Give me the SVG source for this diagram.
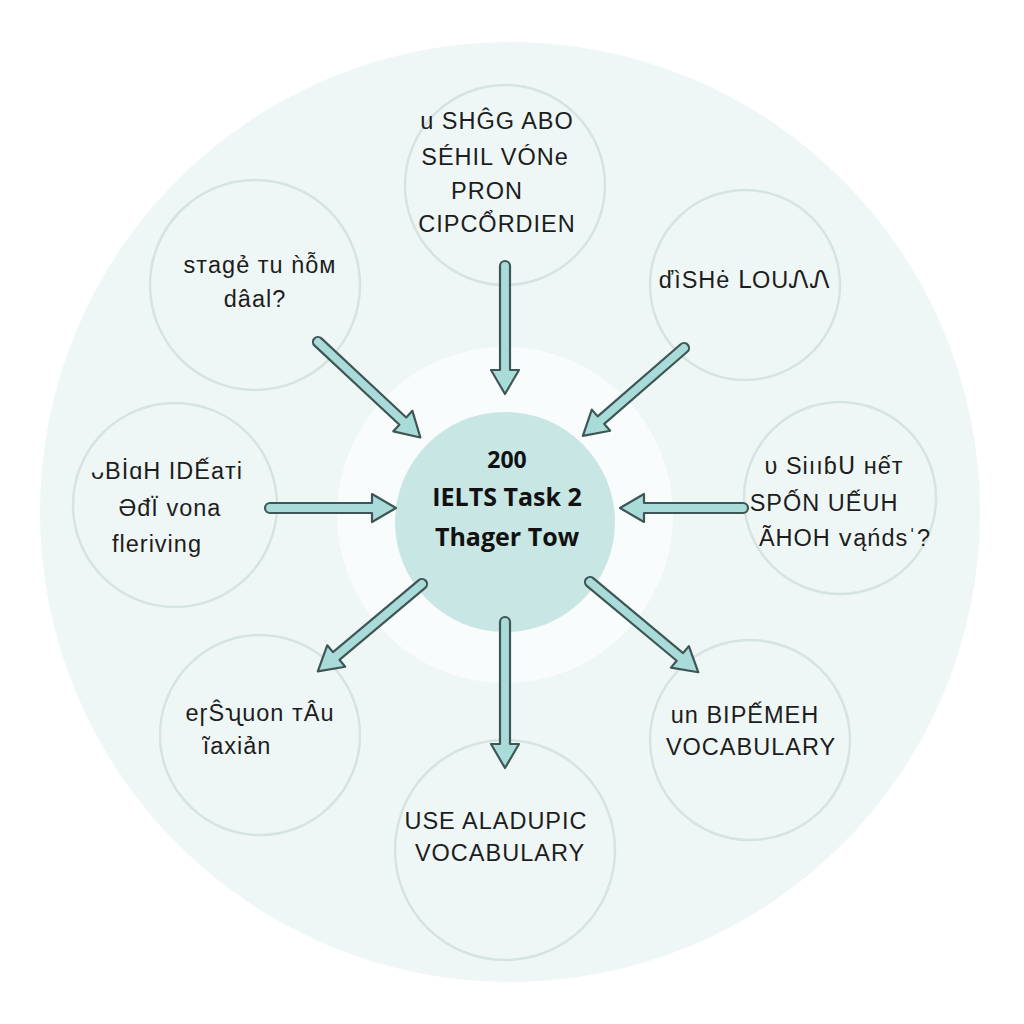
<svg xmlns="http://www.w3.org/2000/svg" width="1024" height="1024" viewBox="0 0 1024 1024">
<style>
.node{fill:none;stroke:#d6e4e1;stroke-width:2.5}
.t{font-family:"Liberation Sans","DejaVu Sans",sans-serif;font-size:23.5px;fill:#1d1d1d;text-anchor:middle;letter-spacing:1px}
.c{font-family:"Open Sans","Liberation Sans",sans-serif;font-weight:bold;fill:#111;text-anchor:middle}
.arr{fill:#a9dcd8;stroke:#3f5656;stroke-width:2.2;stroke-linejoin:round}
</style>
<rect width="1024" height="1024" fill="#ffffff"/>
<circle cx="510" cy="512" r="470" fill="#eff7f6"/>
<circle cx="505" cy="515" r="168" fill="#f9fcfc"/>
<g id="center">
<circle cx="505" cy="522" r="110" fill="#c8e6e3"/>
<text class="c" x="507" y="468" font-size="23">200</text>
<text class="c" x="507" y="506" font-size="25">IELTS Task 2</text>
<text class="c" x="507" y="546" font-size="25">Thager Tow</text>
</g>
<g id="n-top">
<circle class="node" cx="505" cy="185" r="100"/>
<text class="t" x="497" y="129">u SHĜG ABO</text>
<text class="t" x="495" y="165">SÉHIL VÓNe</text>
<text class="t" x="487" y="199">PRON</text>
<text class="t" x="497" y="232">CIPCỔRDIEN</text>
</g>
<g id="n-tl">
<circle class="node" cx="255" cy="285" r="105"/>
<text class="t" x="260" y="273">sтagẻ тu ǹỗм</text>
<text class="t" x="255" y="307">dâal?</text>
</g>
<g id="n-tr">
<circle class="node" cx="745" cy="285" r="95"/>
<text class="t" x="745" y="288">ďìSHė ᒪOUᏁᏁ</text>
</g>
<g id="n-l">
<circle class="node" cx="175" cy="505" r="102"/>
<text class="t" x="167" y="479">ᴗBİɑH IDẾaᴛi</text>
<text class="t" x="170" y="516">ƏđΪ vona</text>
<text class="t" x="157" y="552">fleriving</text>
</g>
<g id="n-r">
<circle class="node" cx="840" cy="498" r="96"/>
<text class="t" x="834" y="474">υ Siııɓᑌ нếт</text>
<text class="t" x="824" y="511">SPỐN UẾUH</text>
<text class="t" x="845" y="546">ÃHOH ⅴąńdsˈ?</text>
</g>
<g id="n-bl">
<circle class="node" cx="260" cy="735" r="100"/>
<text class="t" x="260" y="721">eɼŜʯuon тÂu</text>
<text class="t" x="237" y="754">ĩaxiản</text>
</g>
<g id="n-br">
<circle class="node" cx="750" cy="740" r="100"/>
<text class="t" x="745" y="723">un BIPẾMEH</text>
<text class="t" x="751" y="755">VOCABULARY</text>
</g>
<g id="n-b">
<circle class="node" cx="505" cy="850" r="110"/>
<text class="t" x="496" y="829" font-size="25.5">USE ALADUPIC</text>
<text class="t" x="500" y="861" font-size="25.5">VOCABULARY</text>
</g>
<g id="connectors">
<g transform="translate(505,266) rotate(90)"><path class="arr" d="M0,-5 H104 V-14 L128,0 L104,14 V5 H0 A5,5 0 0 1 0,-5 Z"/></g>
<g transform="translate(318,342) rotate(43)"><path class="arr" d="M0,-5 H116 V-14 L140,0 L116,14 V5 H0 A5,5 0 0 1 0,-5 Z"/></g>
<g transform="translate(684,348) rotate(139)"><path class="arr" d="M0,-5 H110 V-14 L134,0 L110,14 V5 H0 A5,5 0 0 1 0,-5 Z"/></g>
<g transform="translate(270,508)"><path class="arr" d="M0,-5 H102 V-14 L126,0 L102,14 V5 H0 A5,5 0 0 1 0,-5 Z"/></g>
<g transform="translate(743,508) rotate(180)"><path class="arr" d="M0,-5 H99 V-14 L123,0 L99,14 V5 H0 A5,5 0 0 1 0,-5 Z"/></g>
<g transform="translate(422,584) rotate(140)"><path class="arr" d="M0,-5 H112 V-14 L136,0 L112,14 V5 H0 A5,5 0 0 1 0,-5 Z"/></g>
<g transform="translate(505,622) rotate(90)"><path class="arr" d="M0,-5 H122 V-14 L146,0 L122,14 V5 H0 A5,5 0 0 1 0,-5 Z"/></g>
<g transform="translate(590,582) rotate(39.8)"><path class="arr" d="M0,-5 H117 V-14 L141,0 L117,14 V5 H0 A5,5 0 0 1 0,-5 Z"/></g>
</g>
</svg>
